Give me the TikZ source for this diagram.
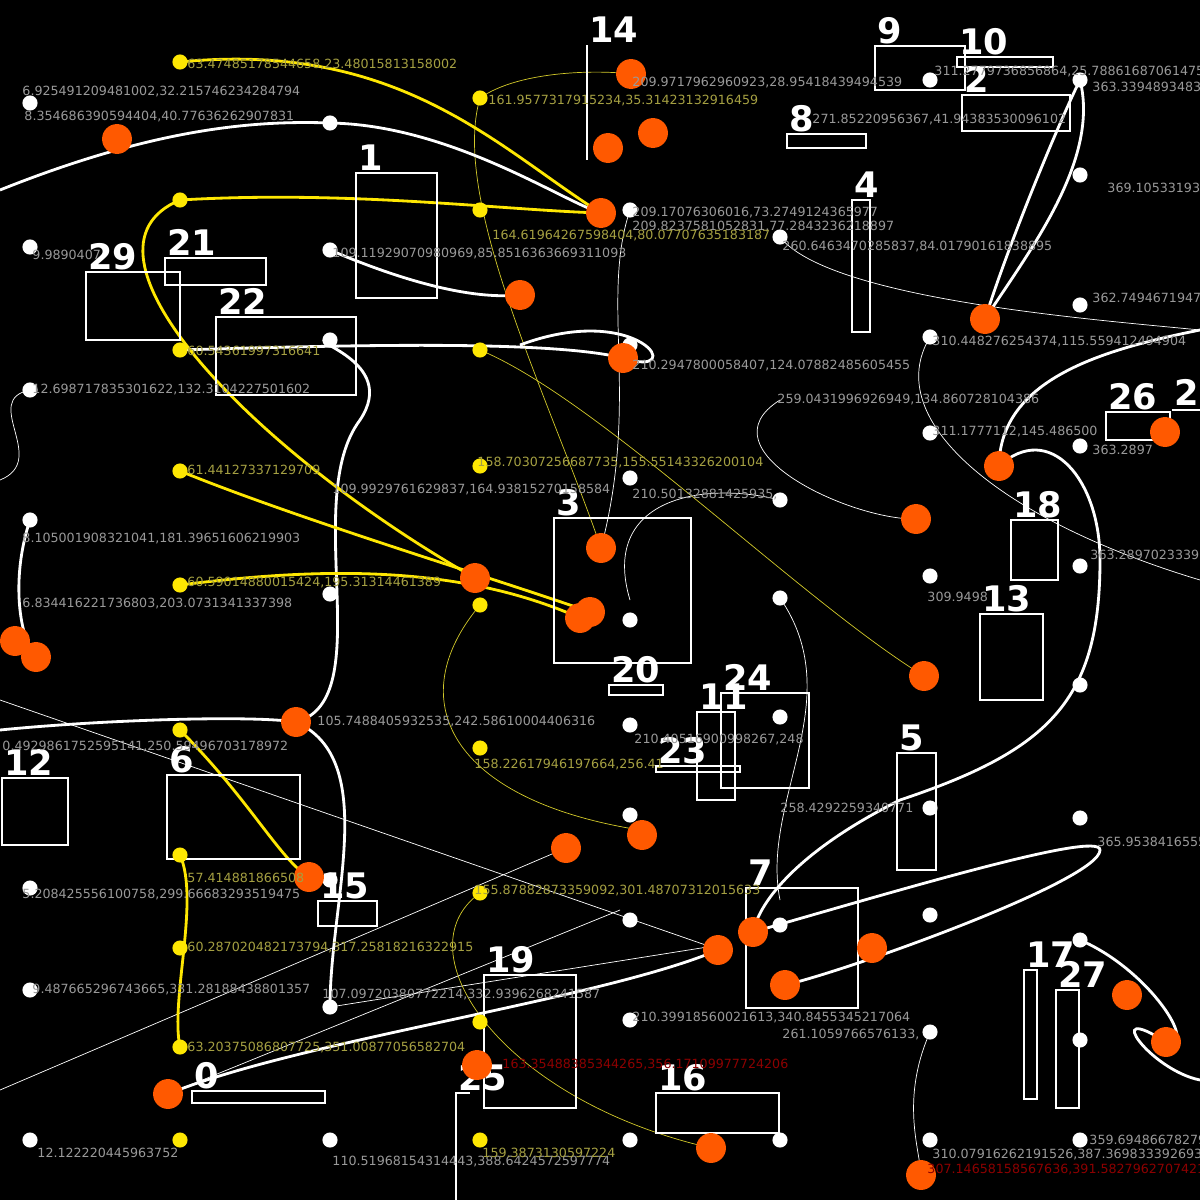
\documentclass[tikz,border=0pt]{standalone}
\usepackage{fontspec}
\setmainfont{DejaVu Sans}
\tikzset{
  wdot/.style={circle,fill=white,inner sep=0pt,minimum size=4.3pt},
  ydot/.style={circle,fill=yellow!90!orange,inner sep=0pt,minimum size=4.3pt},
  odot/.style={circle,fill=orange!70!red,inner sep=0pt,minimum size=8.5pt},
  box/.style={draw=white,line width=0.8pt},
  num/.style={text=white,font=\bfseries\fontsize{10}{11}\selectfont,anchor=south west,inner sep=0.5pt},
  lab/.style={text=gray!80,font=\fontsize{3.6}{4}\selectfont,anchor=west,inner sep=0.5pt},
  ylab/.style={lab,text=yellow!60!black},
  olab/.style={lab,text=red!55!black},
  thick white/.style={white,line width=0.8pt},
  thin white/.style={white,line width=0.2pt},
  thick yellow/.style={yellow!90!orange,line width=0.8pt},
  thin yellow/.style={yellow!80!black,line width=0.2pt}
}
\begin{document}
\begin{tikzpicture}[x=0.01cm,y=-0.01cm]
\fill[black] (0,0) rectangle (1200,1200);
\useasboundingbox (0,0) rectangle (1200,1200);

% thin lines
\draw[thin white] (0,1090) -- (566,848);
\draw[thin white] (0,700) -- (720,950);
\draw[thin white] (168,1094) -- (620,910);
\draw[thin white] (330,1007) -- (720,945);
\draw[thin white] (780,237) .. controls (830,300) and (1100,320) .. (1200,330);
\draw[thin white] (630,210) .. controls (600,300) and (640,400) .. (601,548);
\draw[thin white] (930,337) .. controls (880,420) and (1000,520) .. (1200,580);
\draw[thin white] (30,390) .. controls (-20,400) and (50,460) .. (0,480);
\draw[thin white] (780,500) .. controls (700,480) and (600,500) .. (630,600);
\draw[thin white] (780,598) .. controls (850,700) and (760,800) .. (780,900);
\draw[thin white] (930,1032) .. controls (900,1100) and (920,1150) .. (921,1175);
\draw[thin white] (780,400) .. controls (700,450) and (850,520) .. (916,519);
\draw[thin yellow] (480,98) .. controls (450,200) and (550,400) .. (601,548);
\draw[thin yellow] (480,605) .. controls (400,700) and (450,800) .. (640,830);
\draw[thin yellow] (480,350) .. controls (600,400) and (800,600) .. (924,676);
\draw[thin yellow] (480,893) .. controls (400,950) and (500,1100) .. (711,1148);
\draw[thin yellow] (480,98) .. controls (520,70) and (600,70) .. (631,74);

% thick curves
\draw[thick white] (0,190) .. controls (150,130) and (250,120) .. (330,123) .. controls (450,125) and (560,200) .. (601,213);
\draw[thick white] (330,250) .. controls (400,280) and (470,300) .. (520,295);
\draw[thick white] (180,350) .. controls (350,345) and (550,340) .. (623,358) .. controls (690,380) and (640,300) .. (520,345);
\draw[thick white] (0,730) .. controls (100,720) and (250,715) .. (296,722) .. controls (380,760) and (330,900) .. (330,1007);
\draw[thick white] (296,722) .. controls (380,700) and (300,500) .. (360,420) .. controls (400,360) and (300,340) .. (330,340);
\draw[thick white] (985,319) .. controls (1030,250) and (1100,160) .. (1080,80) .. controls (1060,120) and (1010,240) .. (985,319);
\draw[thick white] (1200,330) .. controls (1100,350) and (1000,380) .. (999,466) .. controls (1050,420) and (1100,480) .. (1100,560) .. controls (1100,700) and (1050,750) .. (900,800) .. controls (800,850) and (760,900) .. (753,932);
\draw[thick white] (753,932) .. controls (900,890) and (1100,830) .. (1100,850) .. controls (1100,880) and (850,970) .. (785,985);
\draw[thick white] (1080,940) .. controls (1150,970) and (1200,1050) .. (1166,1042) .. controls (1100,1000) and (1150,1070) .. (1200,1080);
\draw[thick white] (168,1094) .. controls (300,1040) and (600,1000) .. (718,950);
\draw[thick white] (30,520) .. controls (10,580) and (20,640) .. (36,657);
\draw[thick yellow] (180,62) .. controls (400,40) and (500,150) .. (601,213);
\draw[thick yellow] (180,200) .. controls (350,190) and (500,210) .. (601,213);
\draw[thick yellow] (180,200) .. controls (60,250) and (250,450) .. (475,578);
\draw[thick yellow] (180,471) .. controls (300,520) and (500,580) .. (590,612);
\draw[thick yellow] (180,585) .. controls (300,570) and (450,560) .. (580,618);
\draw[thick yellow] (180,730) .. controls (250,800) and (280,860) .. (309,877);
\draw[thick yellow] (180,855) .. controls (200,900) and (170,1000) .. (180,1047);

% boxes
\draw[box] (356,173) rectangle (437,298);
\draw[box] (86,272) rectangle (180,340);
\draw[box] (165,258) rectangle (266,285);
\draw[box] (216,317) rectangle (356,395);
\draw[box] (587,45) -- (587,160);
\draw[box] (875,46) rectangle (965,90);
\draw[box] (957,57) rectangle (1053,67);
\draw[box] (962,95) rectangle (1070,131);
\draw[box] (787,134) rectangle (866,148);
\draw[box] (852,200) rectangle (870,332);
\draw[box] (1106,412) rectangle (1170,440);
\draw[box] (1172,410) -- (1200,410);
\draw[box] (1011,520) rectangle (1058,580);
\draw[box] (554,518) rectangle (691,663);
\draw[box] (609,685) rectangle (663,695);
\draw[box] (980,614) rectangle (1043,700);
\draw[box] (721,693) rectangle (809,788);
\draw[box] (697,712) rectangle (735,800);
\draw[box] (656,766) rectangle (740,772);
\draw[box] (897,753) rectangle (936,870);
\draw[box] (2,778) rectangle (68,845);
\draw[box] (167,775) rectangle (300,859);
\draw[box] (318,901) rectangle (377,926);
\draw[box] (746,888) rectangle (858,1008);
\draw[box] (1024,970) rectangle (1037,1099);
\draw[box] (1056,990) rectangle (1079,1108);
\draw[box] (484,975) rectangle (576,1108);
\draw[box] (192,1091) rectangle (325,1103);
\draw[box] (456,1200) -- (456,1093) -- (470,1093);
\draw[box] (656,1093) rectangle (779,1133);

% box numbers
\foreach \t/\x/\y in {1/356/173, 29/86/272, 21/165/258, 22/216/317, 14/587/45,
  9/875/46, 10/957/57, 2/962/95, 8/787/134, 4/852/200, 26/1106/412, 28/1172/408,
  18/1011/520, 3/554/518, 20/609/685, 13/980/614, 24/721/693, 11/697/712,
  23/656/766, 5/897/753, 12/2/778, 6/167/775, 15/318/901, 7/746/888, 17/1024/970,
  27/1056/990, 19/484/975, 0/192/1091, 25/456/1093, 16/656/1093}
  \node[num] (n\t) at (\x,\y) {\t};

% dots
\foreach \x/\y [count=\i] in {30/103,330/123,630/210,780/237,930/80,1080/175,30/247,
  330/250,630/345,930/337,1080/305,330/340,30/390,630/478,780/500,930/433,1080/446,
  30/520,330/594,630/620,780/598,930/576,1080/566,630/725,780/717,1080/685,630/815,
  930/808,1080/818,30/888,330/880,630/920,780/925,930/915,1080/940,30/990,330/1007,
  630/1020,930/1032,1080/1040,30/1140,330/1140,630/1140,780/1140,930/1140,1080/1140,1080/80}
  \node[wdot] (w\i) at (\x,\y) {};
\foreach \x/\y [count=\i] in {180/62,480/98,180/200,480/210,180/350,480/350,180/471,
  480/466,180/585,480/605,180/730,480/748,180/855,480/893,180/948,480/1022,180/1047,
  180/1140,480/1140}
  \node[ydot] (y\i) at (\x,\y) {};
\foreach \x/\y [count=\i] in {631/74,117/139,608/148,653/133,601/213,520/295,623/358,
  985/319,999/466,916/519,601/548,475/578,590/612,580/618,15/641,36/657,924/676,
  296/722,566/848,642/835,309/877,753/932,718/950,872/948,785/985,1127/995,
  1166/1042,168/1094,477/1065,711/1148,921/1175,1165/432}
  \node[odot] (o\i) at (\x,\y) {};

% coordinate labels
\node[lab] at (20,92) {6.925491209481002,32.215746234284794};
\node[lab] at (22,117) {8.354686390594404,40.77636262907831};
\node[ylab] at (185,65) {63.47485178544658,23.48015813158002};
\node[lab] at (630,83) {209.9717962960923,28.95418439494539};
\node[lab] at (932,72) {311.2779736856864,25.788616870614756};
\node[lab] at (1090,88) {363.33948934832915,};
\node[lab] at (810,120) {271.85220956367,41.94383530096102};
\node[ylab] at (486,101) {161.9577317915234,35.31423132916459};
\node[lab] at (1105,188) {369.105331939};
\node[lab] at (630,213) {209.17076306016,73.2749124365977};
\node[lab] at (630,227) {209.8237581052831,77.2843236218897};
\node[ylab] at (490,236) {164.61964267598404,80.07707635183187};
\node[lab] at (780,247) {260.6463470285837,84.01790161838895};
\node[lab] at (330,254) {109.11929070980969,85.8516363669311093};
\node[lab] at (30,255) {9.9890407};
\node[lab] at (1090,298) {362.7494671947};
\node[lab] at (930,342) {310.448276254374,115.559412494904};
\node[ylab] at (185,351) {60.54361997316641};
\node[lab] at (630,366) {210.2947800058407,124.07882485605455};
\node[lab] at (30,390) {12.698717835301622,132.3104227501602};
\node[lab] at (775,400) {259.0431996926949,134.860728104386};
\node[lab] at (930,432) {311.1777112,145.486500};
\node[lab] at (1090,450) {363.2897};
\node[ylab] at (475,463) {158.70307256687735,155.55143326200104};
\node[ylab] at (185,470) {61.44127337129709};
\node[lab] at (330,490) {109.9929761629837,164.93815270158584};
\node[lab] at (630,495) {210.50132881425935,};
\node[lab] at (20,539) {8.105001908321041,181.39651606219903};
\node[lab] at (1088,555) {363.28970233391};
\node[ylab] at (185,583) {60.59014880015424,195.31314461389};
\node[lab] at (20,604) {6.834416221736803,203.0731341337398};
\node[lab] at (925,597) {309.9498};
\node[lab] at (315,722) {105.7488405932535,242.58610004406316};
\node[lab] at (0,747) {0.4929861752595141,250.59496703178972};
\node[ylab] at (472,765) {158.22617946197664,256.41};
\node[lab] at (632,740) {210.40516900998267,248};
\node[lab] at (778,808) {258.4292259340771};
\node[lab] at (1095,842) {365.9538416555};
\node[lab] at (20,895) {5.208425556100758,299.66683293519475};
\node[ylab] at (185,878) {57.414881866508};
\node[ylab] at (472,891) {155.87882873359092,301.48707312015633};
\node[ylab] at (185,948) {60.287020482173794,317.25818216322915};
\node[lab] at (30,990) {9.487665296743665,331.28188438801357};
\node[lab] at (320,995) {107.09720380772214,332.9396268241587};
\node[lab] at (780,1035) {261.1059766576133,};
\node[ylab] at (185,1048) {63.20375086807725,351.00877056582704};
\node[lab] at (630,1018) {210.39918560021613,340.8455345217064};
\node[lab] at (35,1153) {12.122220445963752};
\node[lab] at (330,1162) {110.51968154314443,388.6424572597774};
\node[ylab] at (480,1153) {159.3873130597224};
\node[lab] at (930,1155) {310.07916262191526,387.3698333926932};
\node[lab] at (1087,1140) {359.694866782792};
\node[olab] at (925,1170) {307.14658158567636,391.58279627074215};
\node[olab] at (500,1065) {163.35488385344265,356.17109977724206};
\end{tikzpicture}
\end{document}
